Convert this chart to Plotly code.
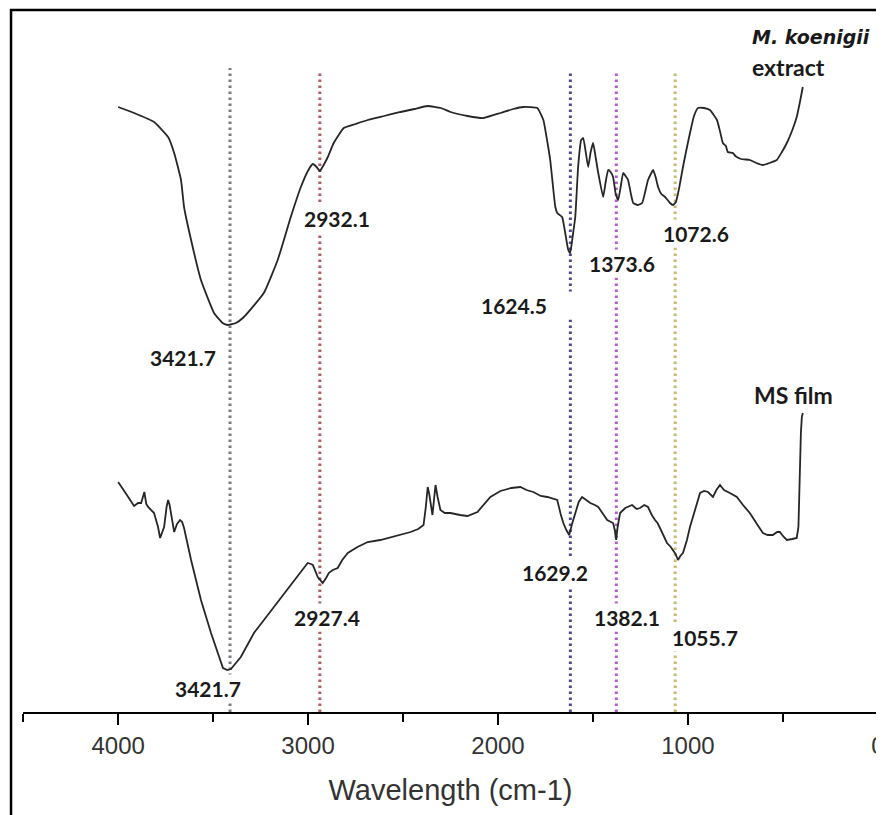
import plotly.graph_objects as go

# ---------------- data ----------------
# M. koenigii extract spectrum (upper curve): wavenumber (cm-1) and transmittance (a.u.)
extract_wn = [4000, 3916, 3811, 3737, 3705, 3669, 3653, 3616, 3564, 3495, 3450, 3422, 3380, 3338,
              3233, 3160, 3091, 3038, 2995, 2975, 2955, 2938, 2915, 2896, 2865, 2812, 2750, 2686,
              2600, 2513, 2440, 2371, 2300, 2250, 2160, 2077, 1987, 1920, 1866, 1793, 1761, 1740,
              1725, 1710, 1698, 1688, 1675, 1662, 1645, 1630, 1620, 1605, 1593, 1578, 1562, 1551,
              1538, 1525, 1512, 1499, 1486, 1472, 1446, 1433, 1420, 1407, 1394, 1380, 1367, 1354,
              1341, 1328, 1315, 1300, 1288, 1265, 1241, 1225, 1210, 1195, 1183, 1170, 1157, 1140,
              1120, 1094, 1078, 1063, 1045, 1026, 1008, 989, 968, 947, 915, 884, 847, 830, 816,
              800, 790, 763, 750, 720, 674, 640, 605, 570, 532, 505, 479, 450, 427, 410, 395]
extract_t = [605, 599, 590, 575, 559, 532, 505, 472, 432, 399, 389, 387, 389, 395,
             419, 452, 495, 525, 543, 548, 545, 541, 548, 555, 569, 584, 588, 592,
             596, 600, 603, 606, 604, 600, 596, 594, 599, 603, 605, 604, 592, 570,
             552, 525, 505, 499, 497, 495, 478, 462, 459, 478, 495, 545, 572, 574,
             560, 545, 560, 569, 555, 539, 515, 530, 542, 540, 535, 518, 512, 525,
             539, 536, 532, 518, 509, 507, 509, 520, 532, 538, 542, 535, 525, 518,
             515, 509, 507, 510, 525, 545, 562, 579, 596, 604, 604, 602, 592, 580, 569,
             566, 560, 559, 556, 553, 552, 549, 547, 549, 552, 560, 569, 582, 595, 610, 625]

# MS film spectrum (lower curve)
film_wn = [4000, 3970, 3947, 3916, 3895, 3879, 3862, 3852, 3842, 3811, 3790, 3779, 3768, 3758,
           3745, 3737, 3729, 3721, 3705, 3690, 3674, 3663, 3653, 3616, 3564, 3511, 3448, 3425,
           3406, 3380, 3354, 3285, 3180, 3075, 3002, 2985, 2975, 2949, 2923, 2905, 2891, 2870,
           2844, 2820, 2791, 2740, 2686, 2620, 2565, 2500, 2460, 2420, 2392, 2380, 2370, 2362,
           2350, 2345, 2337, 2329, 2318, 2303, 2280, 2250, 2200, 2161, 2108, 2070, 2040, 1987,
           1930, 1882, 1850, 1814, 1775, 1740, 1710, 1688, 1670, 1656, 1640, 1625, 1610, 1593,
           1575, 1557, 1535, 1514, 1490, 1472, 1450, 1425, 1394, 1385, 1378, 1370, 1357, 1330,
           1294, 1270, 1252, 1230, 1210, 1190, 1173, 1160, 1147, 1125, 1110, 1090, 1078, 1065,
           1052, 1040, 1026, 1005, 989, 960, 936, 915, 894, 868, 850, 831, 810, 779, 742, 710,
           674, 640, 605, 580, 553, 530, 516, 495, 479, 450, 427, 418, 416, 410, 405, 400, 395]
film_t = [230, 222, 215, 206, 209, 209, 220, 208, 205, 199, 185, 174, 180, 185,
          205, 212, 207, 199, 180, 188, 192, 190, 184, 152, 112, 79, 44, 42,
          43, 49, 55, 79, 105, 130, 149, 148, 147, 135, 129, 134, 139, 142,
          144, 152, 159, 165, 170, 172, 175, 178, 180, 183, 187, 205, 225, 218,
          200, 197, 212, 227, 215, 202, 199, 199, 197, 196, 200, 208, 215, 221,
          224, 225, 222, 220, 216, 215, 213, 212, 198, 189, 182, 177, 188, 199,
          210, 215, 212, 209, 207, 205, 199, 192, 189, 182, 172, 185, 199, 204,
          207, 203, 204, 207, 205, 197, 192, 189, 184, 175, 169, 165, 162, 158,
          152, 156, 159, 172, 185, 205, 219, 221, 220, 215, 222, 227, 222, 219, 215, 207,
          199, 189, 179, 177, 177, 180, 180, 175, 172, 173, 174, 185, 205, 250, 279, 295, 299]

# dotted marker lines (wavenumber) and their colours
marker_wn = [3411, 2938, 1619, 1377, 1067]
marker_top = [644, 640, 640, 640, 640]
marker_colors = ["#7a7a86", "#b05a62", "#4a4a8c", "#b060c4", "#c9b96e"]

# peak labels: text, wavenumber position, transmittance position
peak_text = ["3421.7", "2932.1", "1373.6", "1072.6",
             "3421.7", "2927.4", "1629.2", "1382.1", "1055.7"]
peak_x = [3658, 2849, 1346, 957, 3527, 2901, 1698, 1319, 909]
peak_y = [355, 494, 449, 479, 24, 95, 140, 95, 75]

# x-axis ticks
tick_vals = [4000, 3000, 2000, 1000, 0]
tick_text = ["4000", "3000", "2000", "1000", "0"]

# ---------------- figure ----------------
fig = go.Figure()

for wn, top, col in zip(marker_wn, marker_top, marker_colors):
    fig.add_shape(type="line", xref="x", yref="y", x0=wn, x1=wn, y0=0, y1=top,
                  line=dict(color=col, width=3, dash="2.5px,3.5px"), layer="below")

fig.add_trace(go.Scatter(x=extract_wn, y=extract_t, mode="lines",
                         line=dict(color="#262626", width=1.8, shape="spline", smoothing=0.4),
                         name="M. koenigii extract", showlegend=False, hoverinfo="skip"))
fig.add_trace(go.Scatter(x=film_wn, y=film_t, mode="lines",
                         line=dict(color="#262626", width=1.8),
                         name="MS film", showlegend=False, hoverinfo="skip"))

label_font = dict(family="Lato, 'DejaVu Sans', sans-serif", size=21, color="#1a1a1a")
for txt, xv, yv in zip(peak_text, peak_x, peak_y):
    fig.add_annotation(x=xv, y=yv, xref="x", yref="y", text="<b>" + txt + "</b>",
                       showarrow=False, font=label_font, bgcolor="white", borderpad=1)

# 1624.5 label with a wider white box that interrupts the blue dotted line
fig.add_annotation(x=2102, y=407, xref="x", yref="y", text="<b>1624.5</b>",
                   showarrow=False, font=label_font, bgcolor="white",
                   xanchor="left", align="left", width=94, borderpad=1)

name_font = dict(family="Lato, 'DejaVu Sans', sans-serif", size=23, color="#1a1a1a")
fig.add_annotation(x=673, y=675, xref="x", yref="y", text="<b><i>M. koenigii</i></b>",
                   showarrow=False, xanchor="left",
                   font=dict(family="DejaVu Sans, sans-serif", size=19, color="#1a1a1a"))
fig.add_annotation(x=673, y=645, xref="x", yref="y", text="<b>extract</b>",
                   showarrow=False, font=name_font, xanchor="left")
fig.add_annotation(x=662, y=317, xref="x", yref="y", text="<b>MS film</b>",
                   showarrow=False, font=name_font, xanchor="left")

# outer frame
fig.add_shape(type="rect", xref="paper", yref="paper", x0=-0.0140, x1=1.03, y0=-0.3, y1=1.0029,
              line=dict(color="black", width=2.5), fillcolor="rgba(0,0,0,0)", layer="above")

# the page body adds an 8 px offset; the figure is sized to fit the window
fig.update_layout(
    width=876, height=807,
    margin=dict(l=15, r=6, t=4, b=103, autoexpand=False),
    paper_bgcolor="white", plot_bgcolor="white",
    showlegend=False,
    xaxis=dict(range=[4501, -1], tickvals=tick_vals, ticktext=tick_text,
               showline=True, linecolor="black", linewidth=2, mirror=False,
               ticks="outside", ticklen=11, tickwidth=2, tickcolor="black",
               ticklabeloverflow="allow",
               showgrid=False, zeroline=False, automargin=False,
               tickfont=dict(family="Liberation Sans, Arial, sans-serif", size=24, color="#333333"),
               minor=dict(dtick=500, tick0=0, ticks="outside", ticklen=8, tickwidth=2,
                          tickcolor="black", showgrid=False),
               title=dict(text="Wavelength (cm-1)", standoff=22,
                          font=dict(family="Liberation Sans, Arial, sans-serif", size=29,
                                    color="#333333"))),
    yaxis=dict(range=[0, 700], visible=False, showgrid=False, zeroline=False),
)

fig.write_html("out.html")
